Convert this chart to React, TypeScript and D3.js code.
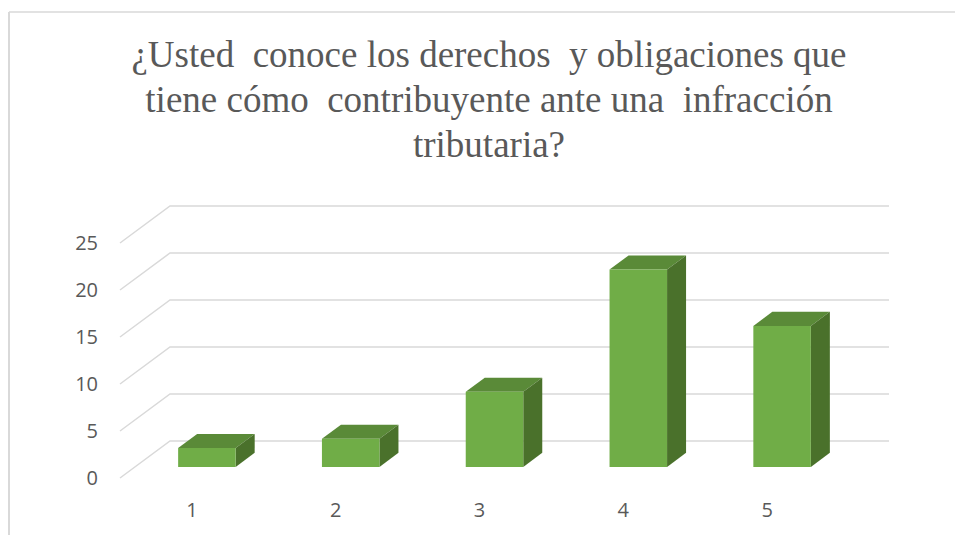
import React from "react";
import * as d3 from "d3";

const categories = ["1", "2", "3", "4", "5"];
const values = [2, 3, 8, 21, 15];
const yTicks = [0, 5, 10, 15, 20, 25];
const titleLines = [
  "¿Usted  conoce los derechos  y obligaciones que",
  "tiene cómo  contribuyente ante una  infracción",
  "tributaria?",
];

const W = 955;
const H = 535;
// back wall geometry
const backLeft = 170;
const backRight = 889;
const depthDx = -50; // offset from back to front
const depthDy = 37;
const tFront = 0.3;
const tBack = 0.68;

export default function App() {
  const x = d3.scaleBand<string>().domain(categories).range([backLeft, backRight]);
  const y = d3.scaleLinear().domain([0, 25]).range([441, 206]);

  const P = (xb: number, v: number, t: number): [number, number] => [
    xb + depthDx * (1 - t),
    y(v) + depthDy * (1 - t),
  ];
  const pts = (arr: [number, number][]) => arr.map((p) => p.join(",")).join(" ");

  const barW = x.step() * 0.4;
  const grid = "#d9d9d9";
  const textColor = "#595959";

  return (
    <svg
      width={W}
      height={H}
      style={{ position: "absolute", left: 0, top: 0, background: "#fff" }}
    >
      <rect x={0} y={0} width={W} height={H} fill="#fff" />
      <line x1={9} y1={12} x2={W} y2={12} stroke={grid} strokeWidth={1.5} />
      <line x1={9} y1={12} x2={9} y2={H} stroke={grid} strokeWidth={2} />

      {titleLines.map((t, i) => (
        <text
          key={i}
          x={489}
          y={67 + i * 45}
          textAnchor="middle"
          fontFamily="'Liberation Serif', 'Times New Roman', serif"
          fontSize={37}
          fill={textColor}
          style={{ whiteSpace: "pre" }}
        >
          {t}
        </text>
      ))}

      {yTicks.map((v) => {
        const f = P(backLeft, v, 0);
        const b = P(backLeft, v, 1);
        const r = P(backRight, v, 1);
        return (
          <polyline
            key={v}
            points={pts([f, b, r])}
            fill="none"
            stroke={grid}
            strokeWidth={1.5}
          />
        );
      })}

      {yTicks.map((v) => {
        const f = P(backLeft, v, 0);
        return (
          <text
            key={v}
            x={98}
            y={f[1]}
            dy="0.36em"
            textAnchor="end"
            fontFamily="'Open Sans', 'Liberation Sans', sans-serif"
            fontSize={20}
            fill={textColor}
          >
            {v}
          </text>
        );
      })}

      {categories.map((c, i) => {
        const cx = (x(c) as number) + x.bandwidth() / 2;
        const x0 = cx - barW / 2;
        const x1 = cx + barW / 2;
        const v = values[i];
        const fBL = P(x0, 0, tFront);
        const fBR = P(x1, 0, tFront);
        const fTL = P(x0, v, tFront);
        const fTR = P(x1, v, tFront);
        const bTL = P(x0, v, tBack);
        const bTR = P(x1, v, tBack);
        const bBR = P(x1, 0, tBack);
        return (
          <g key={c}>
            <polygon points={pts([fTL, fTR, bTR, bTL])} fill="#5a8a38" />
            <polygon points={pts([fTR, bTR, bBR, fBR])} fill="#4a712b" />
            <polygon points={pts([fBL, fBR, fTR, fTL])} fill="#70ad47" />
          </g>
        );
      })}

      {categories.map((c) => {
        const cx = (x(c) as number) + x.bandwidth() / 2;
        const f = P(cx, 0, 0);
        return (
          <text
            key={c}
            x={f[0]}
            y={510}
            dy="0.36em"
            textAnchor="middle"
            fontFamily="'Open Sans', 'Liberation Sans', sans-serif"
            fontSize={20}
            fill={textColor}
          >
            {c}
          </text>
        );
      })}
    </svg>
  );
}
